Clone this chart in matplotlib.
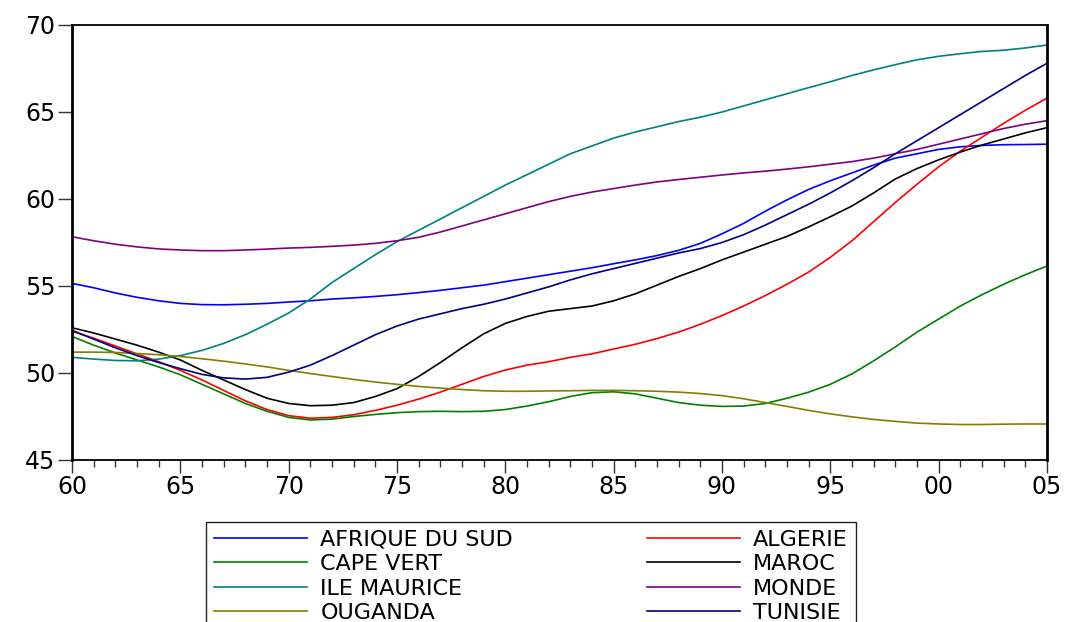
import numpy as np
import matplotlib.pyplot as plt
from matplotlib.ticker import MultipleLocator

# Life expectancy 1960-2005
years = np.arange(1960, 2006)

afrique_du_sud = [55.15, 54.9, 54.6, 54.35, 54.15, 54.0, 53.93, 53.92, 53.95, 54.0,
                  54.08, 54.15, 54.25, 54.32, 54.4, 54.5, 54.62, 54.75, 54.9, 55.05,
                  55.25, 55.45, 55.65, 55.85, 56.05, 56.28, 56.5, 56.75, 57.05, 57.45,
                  58.0, 58.6, 59.3, 59.95, 60.55, 61.05, 61.5, 61.95, 62.35, 62.6,
                  62.85, 63.0, 63.08, 63.12, 63.13, 63.15]
algerie = [52.4, 52.0, 51.55, 51.1, 50.65, 50.15, 49.6, 49.0, 48.4, 47.9,
           47.55, 47.4, 47.45, 47.6, 47.85, 48.15, 48.5, 48.9, 49.35, 49.8,
           50.17, 50.45, 50.65, 50.9, 51.1, 51.38, 51.65, 51.98, 52.35, 52.8,
           53.3, 53.85, 54.45, 55.1, 55.8, 56.65, 57.6, 58.7, 59.8, 60.85,
           61.85, 62.75, 63.55, 64.35, 65.1, 65.8]
cape_vert = [52.1, 51.6, 51.15, 50.75, 50.35, 49.9, 49.35, 48.8, 48.25, 47.8,
             47.45, 47.3, 47.35, 47.5, 47.62, 47.72, 47.78, 47.8, 47.78, 47.8,
             47.9, 48.1, 48.35, 48.65, 48.87, 48.92, 48.8, 48.55, 48.3, 48.15,
             48.08, 48.1, 48.25, 48.55, 48.9, 49.35, 49.95, 50.7, 51.5, 52.35,
             53.1, 53.85, 54.5, 55.1, 55.65, 56.15]
maroc = [52.6, 52.3, 51.95, 51.6, 51.2, 50.75, 50.15, 49.6, 49.05, 48.55,
         48.25, 48.12, 48.15, 48.3, 48.65, 49.1, 49.8, 50.6, 51.45, 52.25,
         52.85, 53.25, 53.55, 53.7, 53.85, 54.15, 54.55, 55.05, 55.55, 56.0,
         56.5, 56.95, 57.4, 57.85, 58.4, 58.98, 59.6, 60.35, 61.15, 61.75,
         62.25, 62.7, 63.1, 63.45, 63.8, 64.1]
ile_maurice = [50.9, 50.8, 50.72, 50.7, 50.8, 51.0, 51.3, 51.7, 52.2, 52.8,
               53.45, 54.25, 55.2, 56.0, 56.8, 57.55, 58.2, 58.85, 59.5, 60.15,
               60.8, 61.4, 62.0, 62.6, 63.05, 63.5, 63.85, 64.15, 64.45, 64.7,
               65.0, 65.35, 65.7, 66.05, 66.4, 66.74, 67.1, 67.42, 67.72, 68.0,
               68.2, 68.35, 68.48, 68.55, 68.68, 68.85]
monde = [57.83, 57.6, 57.4, 57.25, 57.13, 57.07, 57.03, 57.03, 57.07, 57.12,
         57.18, 57.22, 57.28, 57.35, 57.45, 57.6, 57.8, 58.1, 58.45, 58.8,
         59.15, 59.5, 59.85, 60.15, 60.4, 60.6, 60.8, 60.98, 61.12, 61.25,
         61.38, 61.5, 61.6, 61.72, 61.85, 62.0, 62.15, 62.35, 62.6, 62.85,
         63.15, 63.45, 63.75, 64.05, 64.3, 64.5]
ouganda = [51.2, 51.2, 51.18, 51.12, 51.05, 50.95, 50.82, 50.68, 50.52, 50.35,
           50.15, 49.97, 49.8, 49.63, 49.48, 49.35, 49.23, 49.13, 49.05, 48.98,
           48.95, 48.95, 48.97, 48.98, 49.0, 49.0, 48.98, 48.95, 48.9, 48.82,
           48.7, 48.52, 48.3, 48.08, 47.85, 47.65, 47.48, 47.33, 47.22, 47.12,
           47.07, 47.04, 47.04, 47.06, 47.07, 47.07]
tunisie = [52.45, 51.95, 51.45, 51.0, 50.6, 50.25, 49.92, 49.72, 49.65, 49.75,
           50.05, 50.45, 51.0, 51.6, 52.2, 52.7, 53.1, 53.4, 53.7, 53.95,
           54.25, 54.6, 54.95, 55.35, 55.7, 56.0, 56.3, 56.6, 56.9, 57.15,
           57.5, 57.95, 58.5, 59.1, 59.7, 60.35, 61.05, 61.8, 62.6, 63.35,
           64.1, 64.85, 65.6, 66.35, 67.1, 67.8]

series = [
    ("AFRIQUE DU SUD", afrique_du_sud, "#0000FF"),
    ("ALGERIE", algerie, "#FF0000"),
    ("CAPE VERT", cape_vert, "#008000"),
    ("MAROC", maroc, "#000000"),
    ("ILE MAURICE", ile_maurice, "#008080"),
    ("MONDE", monde, "#800080"),
    ("OUGANDA", ouganda, "#808000"),
    ("TUNISIE", tunisie, "#000080"),
]

x_ticks = [1960, 1965, 1970, 1975, 1980, 1985, 1990, 1995, 2000, 2005]
x_labels = ["60", "65", "70", "75", "80", "85", "90", "95", "00", "05"]
y_ticks = [45, 50, 55, 60, 65, 70]

plt.rcParams['font.family'] = ['DejaVu Sans']

fig = plt.figure(figsize=(10.69, 6.22), dpi=100)
ax = fig.add_axes([72 / 1069, 1 - 460 / 622, 975 / 1069, 435 / 622])

lines = {}
for name, vals, color in series:
    ln, = ax.plot(years, vals, color=color, lw=1.2, label=name)
    lines[name] = ln

ax.set_xlim(1960, 2005)
ax.set_ylim(45, 70)
ax.set_xticks(x_ticks)
ax.set_xticklabels(x_labels)
ax.set_yticks(y_ticks)
ax.xaxis.set_minor_locator(MultipleLocator(1))
ax.tick_params(axis='both', which='major', direction='out', labelsize=17,
               color='#333333', width=1)
ax.tick_params(axis='x', which='major', length=9, pad=2)
ax.tick_params(axis='y', which='major', length=10, pad=2)
ax.tick_params(axis='x', which='minor', direction='out', length=5, width=1,
               color='#333333')
for side in ['left', 'right']:
    ax.spines[side].set_linewidth(2)
for side in ['top', 'bottom']:
    ax.spines[side].set_linewidth(1.3)

# legend: column-first order so rows read AFRIQUE DU SUD / ALGERIE, etc.
order = ["AFRIQUE DU SUD", "CAPE VERT", "ILE MAURICE", "OUGANDA",
         "ALGERIE", "MAROC", "MONDE", "TUNISIE"]
leg = fig.legend([lines[n] for n in order], order, ncol=2,
                 loc='upper left',
                 bbox_to_anchor=(206 / 1069, 1 - 522 / 622),
                 borderaxespad=0, fontsize=16, handlelength=4.2,
                 handletextpad=0.6, labelspacing=0.2, borderpad=0.35,
                 columnspacing=6.0,
                 fancybox=False, framealpha=1, edgecolor='#222222')
leg.get_frame().set_linewidth(1)

fig.savefig('out.png', dpi=100)
